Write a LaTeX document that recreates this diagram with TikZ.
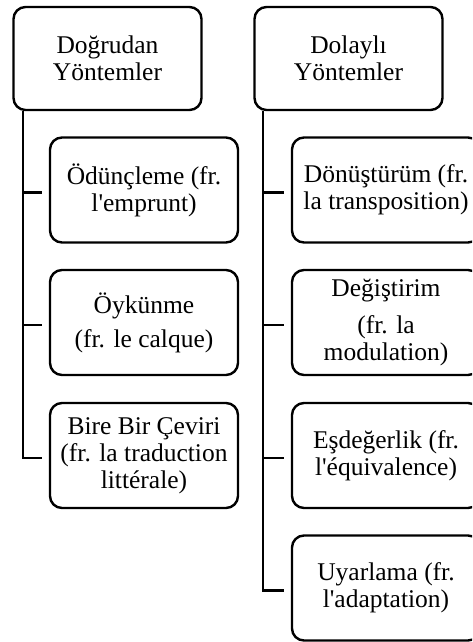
\documentclass[tikz,border=0pt]{standalone}
\usepackage{fontspec}
\setmainfont{Liberation Serif}[Ligatures=TeXOff]
\begin{document}
\begin{tikzpicture}[x=1pt,y=-1pt,
  box/.style={draw=black, line width=2.4pt, rounded corners=12pt, align=center, inner sep=0pt,
    font=\fontsize{25.5}{27}\selectfont},
  topbox/.style={box, minimum width=188pt, minimum height=103pt},
  childbox/.style={box, minimum width=188pt, minimum height=105pt},
  conn/.style={draw=black, line width=2.4pt}]
\clip (0,0) rectangle (472,642);
\fill[white] (0,0) rectangle (472,642);
% top boxes
\node[topbox] (L0) at (107.5,58.5) {Doğrudan\\Yöntemler};
\node[topbox] (R0) at (348.5,58.5) {Dolaylı\\Yöntemler};
% left children
\node[childbox] (L1) at (144,190) {Ödünçleme (fr.\\l'emprunt)};
\node[childbox] (L2) at (144,322.5) {Öykünme\\[7pt](fr. le calque)};
\node[childbox] (L3) at (144,455.5) {Bire Bir Çeviri\\(fr. la traduction\\littérale)};
% right children
\node[childbox] (R1) at (386,190) {Dönüştürüm (fr.\\la transposition)};
\node[childbox] (R2) at (386,322.5) {Değiştirim\\[10pt](fr. la\\modulation)};
\node[childbox] (R3) at (386,455.5) {Eşdeğerlik (fr.\\l'équivalence)};
\node[childbox] (R4) at (386,588) {Uyarlama (fr.\\l'adaptation)};
% connector anchors
\coordinate (lx) at (23,0);
\coordinate (rx) at (263,0);
\foreach \n in {L1,L2,L3,R1,R2,R3,R4}{
  \coordinate (\n s) at ([xshift=-7pt,yshift=-2.5pt]\n.west);
}
% left tree
\draw[conn] (L0.south -| lx) |- (L3s);
\draw[conn] (L1s) -- (L1s -| lx);
\draw[conn] (L2s) -- (L2s -| lx);
% right tree
\draw[conn] (R0.south -| rx) |- (R4s);
\draw[conn] (R1s) -- (R1s -| rx);
\draw[conn] (R2s) -- (R2s -| rx);
\draw[conn] (R3s) -- (R3s -| rx);
\end{tikzpicture}
\end{document}
